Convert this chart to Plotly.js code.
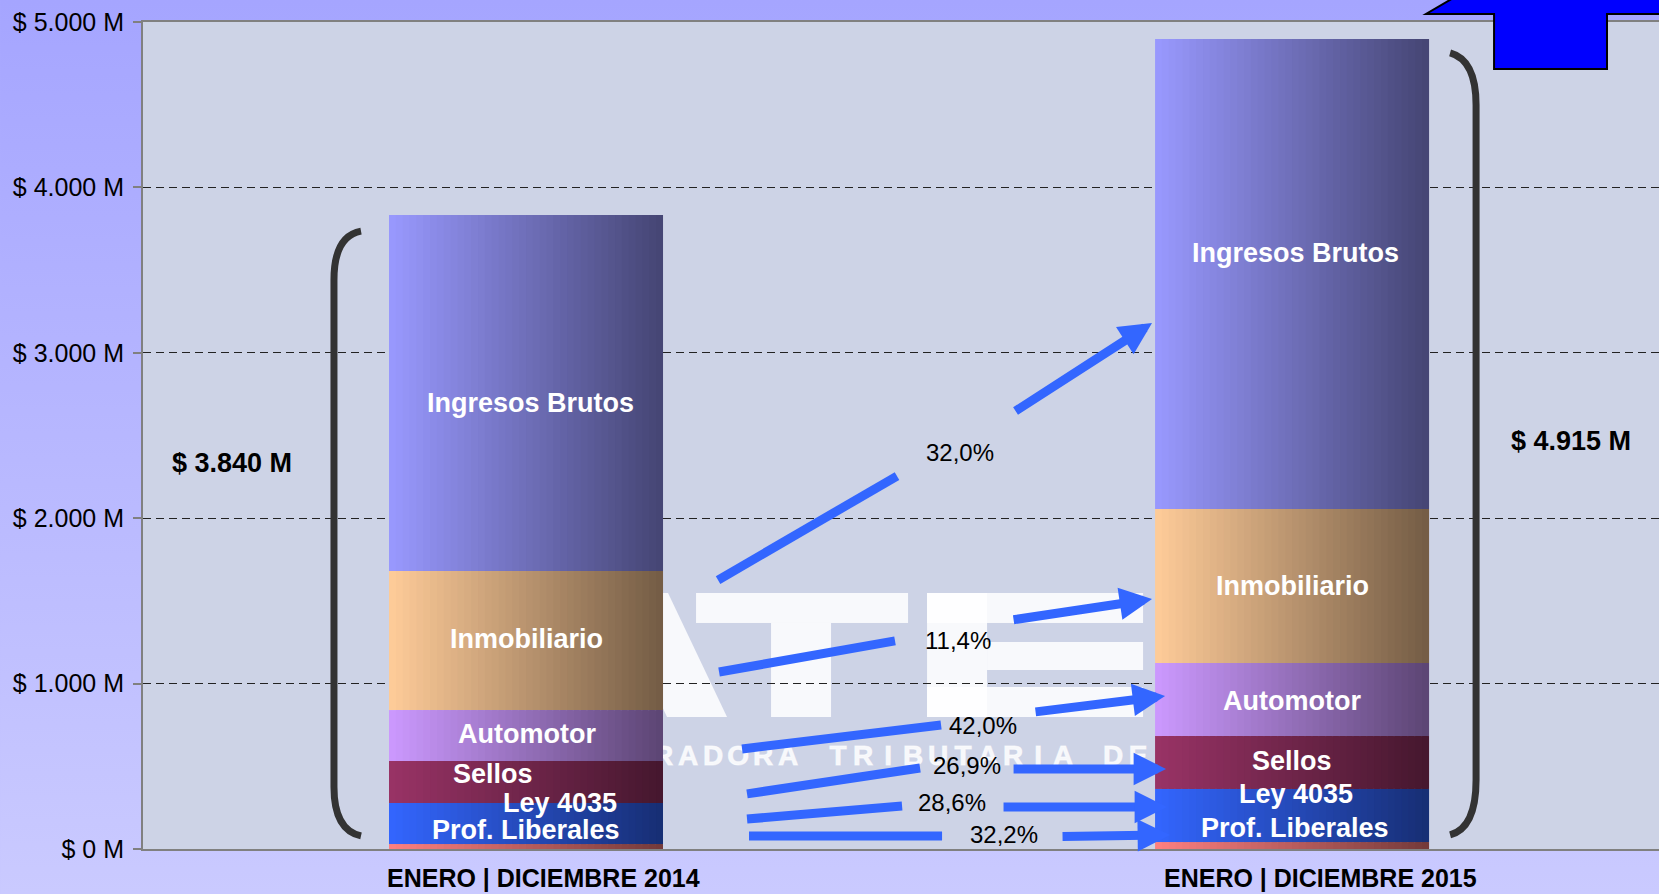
<!DOCTYPE html>
<html>
<head>
<meta charset="utf-8">
<script src="https://cdn.plot.ly/plotly-3.0.1.min.js"></script>
<style>
html,body{margin:0;padding:0;background:#b8b8ff;}
#chart{width:1659px;height:894px;}
</style>
</head>
<body>
<div id="chart"></div>
<script>
// ---------------- DATA ----------------
const categories = ['ENERO | DICIEMBRE 2014', 'ENERO | DICIEMBRE 2015'];
const segments = ['Prof. Liberales', 'Ley 4035', 'Sellos', 'Automotor', 'Inmobiliario', 'Ingresos Brutos'];
const values2014 = [30, 248, 254, 308, 841, 2152];
const values2015 = [42, 321, 320, 442, 931, 2841];
const totalLabels = ['$ 3.840 M', '$ 4.915 M'];
const growthLabels = ['32,2%', '28,6%', '26,9%', '42,0%', '11,4%', '32,0%'];
const yTickValues = [0, 1000, 2000, 3000, 4000, 5000];
const yTickLabels = ['$ 0 M', '$ 1.000 M', '$ 2.000 M', '$ 3.000 M', '$ 4.000 M', '$ 5.000 M'];

// ---------------- STYLE / LAYOUT CONFIG ----------------
const segmentColors = ['#ff8080', '#3366ff', '#993366', '#cc99ff', '#ffcc99', '#9999ff'];
const FONT = 'Liberation Sans, Arial, Helvetica, sans-serif';
const BAR_W = 0.3577, SLICES = 40, DARK = 0.45;
const ARROW_COLOR = '#3366ff';

// segment label placement: [dx from bar centre, y]
const labelPos = [
  [[0, 115], [0.0444, 280], [-0.0431, 452], [0.0013, 695], [0, 1270], [0.0052, 2697]],
  [[0.0039, 127], [0.0052, 330], [0, 530], [0, 895], [0, 1590], [0.0039, 3603]]
];
// growth arrows per segment: tail [x0,y0,x1,y1], head [x0,y0,x1,y1], label [x,y]
const arrowGeom = [
  {tail: [0.2911, 79, 0.5431, 79], head: [0.6984, 76, 0.8407, 85], label: [0.6240, 85]},
  {tail: [0.2885, 181, 0.4909, 260], head: [0.6214, 254, 0.8368, 254], label: [0.5561, 284]},
  {tail: [0.2885, 333, 0.5144, 490], head: [0.6345, 484, 0.8355, 484], label: [0.5757, 502]},
  {tail: [0.2820, 605, 0.5418, 750], head: [0.6632, 828, 0.8342, 925], label: [0.5966, 744]},
  {tail: [0.2520, 1070, 0.4817, 1258], head: [0.6345, 1385, 0.8172, 1511], label: [0.5640, 1258]},
  {tail: [0.2507, 1626, 0.4843, 2255], head: [0.6371, 2642, 0.8172, 3180], label: [0.5666, 2400]}
];
const totalPos = [[-0.3838, 2334], [1.3642, 2467]];

// ---------------- BUILD ----------------
function hexToRgb(h) {
  const n = parseInt(h.slice(1), 16);
  return [(n >> 16) & 255, (n >> 8) & 255, n & 255];
}
function shade(hex, t) {
  const f = 1 - t * (1 - DARK);
  const c = hexToRgb(hex).map(v => Math.round(v * f));
  return 'rgb(' + c.join(',') + ')';
}

const series = [values2014, values2015];
const xs = [], ys = [], bases = [], segIdx = [];
series.forEach((vals, ci) => {
  let acc = 0;
  vals.forEach((v, k) => {
    xs.push(ci); ys.push(v); bases.push(acc); segIdx.push(k);
    acc += v;
  });
});

const traces = [];
const step = BAR_W / SLICES;
for (let i = 0; i < SLICES; i++) {
  const t = (i + 0.5) / SLICES;
  const off = -BAR_W / 2 + i * step;
  const w = (i < SLICES - 1) ? step * 1.8 : step;
  traces.push({
    type: 'bar', x: xs, y: ys, base: bases,
    offset: off, width: w,
    marker: {color: segIdx.map(k => shade(segmentColors[k], t)), line: {width: 0}},
    hoverinfo: 'skip', showlegend: false
  });
}

const annotations = [];
// segment labels inside the bars
series.forEach((vals, ci) => {
  segments.forEach((name, k) => {
    annotations.push({
      x: ci + labelPos[ci][k][0], y: labelPos[ci][k][1], xref: 'x', yref: 'y',
      text: name, showarrow: false, xanchor: 'center', yanchor: 'middle',
      font: {family: FONT, size: 27, color: '#ffffff', weight: 'bold'}
    });
  });
});
// totals
totalLabels.forEach((txt, ci) => {
  annotations.push({
    x: totalPos[ci][0], y: totalPos[ci][1], xref: 'x', yref: 'y',
    text: txt, showarrow: false, xanchor: 'center', yanchor: 'middle',
    font: {family: FONT, size: 27, color: '#000000', weight: 'bold'}
  });
});
// category labels under the bars
const catShift = [0.0222, 0.0366];
categories.forEach((txt, ci) => {
  annotations.push({
    x: ci + catShift[ci], y: 0, xref: 'x', yref: 'paper', yshift: -29,
    text: txt, showarrow: false, xanchor: 'center', yanchor: 'middle',
    font: {family: FONT, size: 25, color: '#000000', weight: 'bold'}
  });
});
// growth labels + arrow heads
const shapes = [];
growthLabels.forEach((txt, k) => {
  const g = arrowGeom[k];
  annotations.push({
    x: g.label[0], y: g.label[1], xref: 'x', yref: 'y', text: txt, showarrow: false,
    xanchor: 'center', yanchor: 'middle',
    font: {family: FONT, size: 24, color: '#000000'}
  });
  annotations.push({
    x: g.head[2], y: g.head[3], ax: g.head[0], ay: g.head[1],
    xref: 'x', yref: 'y', axref: 'x', ayref: 'y',
    text: ' ', font: {size: 1}, showarrow: true, arrowhead: 2, arrowsize: 0.72,
    arrowwidth: 9, arrowcolor: ARROW_COLOR, standoff: 0, startstandoff: 0
  });
  shapes.push({
    type: 'line', xref: 'x', yref: 'y',
    x0: g.tail[0], y0: g.tail[1], x1: g.tail[2], y1: g.tail[3],
    line: {color: ARROW_COLOR, width: 9}, layer: 'above'
  });
});

// plot area background (over the paper gradient image)
shapes.unshift({
  type: 'rect', xref: 'paper', yref: 'paper', x0: 0, y0: 0, x1: 1, y1: 1,
  fillcolor: '#cdd3e6', line: {width: 0}, layer: 'below'
});
// brackets
shapes.push({
  type: 'path', xref: 'x', yref: 'y', layer: 'above',
  path: 'M -0.2154,3736 Q -0.2507,3706 -0.2507,3440 L -0.2507,375 Q -0.2507,115 -0.2154,79',
  line: {color: '#333333', width: 7}
});
shapes.push({
  type: 'path', xref: 'x', yref: 'y', layer: 'above',
  path: 'M 1.2063,4813 Q 1.2402,4770 1.2402,4498 L 1.2402,417 Q 1.2402,127 1.2063,85',
  line: {color: '#333333', width: 7}
});
// blue block arrow (top right, cropped)
shapes.push({
  type: 'path', xref: 'paper', yref: 'paper', layer: 'above',
  path: 'M 0.8912,0.9432 L 0.8912,1.0097 L 0.8463,1.0097 L 0.8846,1.0508 L 1.0402,1.0508 L 1.0402,1.0097 L 0.9657,1.0097 L 0.9657,0.9432 Z',
  fillcolor: '#0000ff', line: {color: '#000000', width: 2}
});

// ---------------- IMAGES (background gradient, watermark) ----------------
const gradSvg = '<svg xmlns="http://www.w3.org/2000/svg" width="10" height="100" viewBox="0 0 10 100" preserveAspectRatio="none">' +
  '<defs><linearGradient id="g" x1="0" y1="0" x2="0" y2="1"><stop offset="0" stop-color="#a5a5ff"/><stop offset="1" stop-color="#cacaff"/></linearGradient></defs>' +
  '<rect width="10" height="100" fill="url(#g)"/></svg>';

const wmText = 'ADMINISTRADORA TRIBUTARIA DE ENTRE RÍOS';
let tspans = '';
for (let k = 0; k < wmText.length; k++) {
  const ch = wmText[k];
  if (ch === ' ') continue;
  tspans += '<tspan x="' + (-97 + k * 25) + '">' + ch + '</tspan>';
}
const wmSvg = '<svg xmlns="http://www.w3.org/2000/svg" width="600" height="210" viewBox="0 0 600 210">' +
  '<g fill="#ffffff" fill-opacity="0.85">' +
  '<polygon points="48,23 108,23 167,147 107,147"/>' +
  '<rect x="136" y="23" width="212" height="30"/>' +
  '<rect x="211" y="53" width="60" height="94"/>' +
  '<rect x="367" y="23" width="60" height="124"/>' +
  '<rect x="367" y="23" width="216" height="30"/>' +
  '<rect x="427" y="72" width="156" height="28"/>' +
  '<rect x="367" y="117" width="216" height="30"/>' +
  '</g>' +
  '<text y="195" font-family="Liberation Sans, Arial, sans-serif" font-weight="bold" font-size="28" text-anchor="middle" fill="#ffffff" fill-opacity="0.85" stroke="#ffffff" stroke-opacity="0.6" stroke-width="1">' + tspans + '</text>' +
  '</svg>';

const images = [
  {
    source: 'data:image/svg+xml;charset=utf-8,' + encodeURIComponent(gradSvg),
    xref: 'paper', yref: 'paper', x: -0.0943, y: 1.0266, sizex: 1.0943, sizey: 1.081,
    xanchor: 'left', yanchor: 'top', sizing: 'stretch', layer: 'below'
  },
  {
    source: 'data:image/svg+xml;charset=utf-8,' + encodeURIComponent(wmSvg),
    xref: 'x', yref: 'y', x: 0.0444, y: 1687, sizex: 0.7833, sizey: 1270,
    xanchor: 'left', yanchor: 'top', sizing: 'stretch', layer: 'below'
  }
];

const layout = {
  width: 1659, height: 894,
  margin: {l: 143, r: 0, t: 22, b: 45, pad: 0},
  paper_bgcolor: '#b8b8ff', plot_bgcolor: 'rgba(0,0,0,0)',
  barmode: 'overlay', showlegend: false, hovermode: false,
  font: {family: FONT, color: '#000000'},
  xaxis: {
    range: [-0.5, 1.479], tickvals: [0, 1], ticktext: ['', ''], showticklabels: false,
    showgrid: false, zeroline: false, showline: true, linecolor: '#808080', linewidth: 2, mirror: true,
    ticks: '', fixedrange: true
  },
  yaxis: {
    range: [0, 5000], tickvals: yTickValues, ticktext: yTickLabels,
    showgrid: true, gridcolor: '#222222', griddash: '8px,5px', gridwidth: 1,
    zeroline: false, showline: true, linecolor: '#808080', linewidth: 2,
    ticks: 'outside', ticklen: 8, tickcolor: '#808080', tickwidth: 2,
    tickfont: {family: FONT, size: 25, color: '#000000'}, ticklabelstandoff: 4, fixedrange: true
  },
  shapes: shapes, annotations: annotations, images: images
};

Plotly.newPlot('chart', traces, layout, {displayModeBar: false, staticPlot: true});
</script>
</body>
</html>
